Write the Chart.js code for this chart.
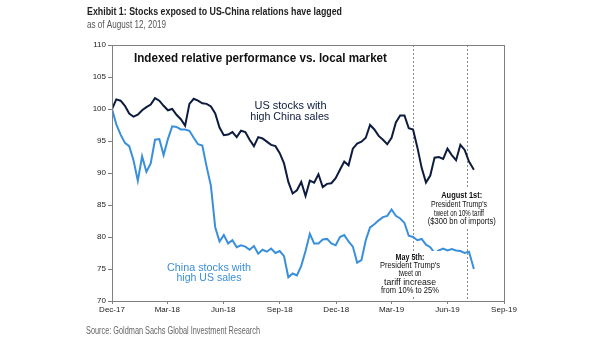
<!DOCTYPE html>
<html><head><meta charset="utf-8">
<script src="https://cdn.jsdelivr.net/npm/chart.js@4.4.1/dist/chart.umd.min.js"></script>
<style>html,body{margin:0;padding:0;background:#fff;}#wrap{width:605px;height:341px;}canvas{display:block;}</style>
</head><body><div id="wrap"><canvas id="c" width="605" height="341"></canvas></div>
<script>
const dates = ['2017-12-31','2018-01-07','2018-01-14','2018-01-21','2018-01-28','2018-02-04','2018-02-11','2018-02-18','2018-02-25','2018-03-04','2018-03-11','2018-03-18','2018-03-25','2018-04-01','2018-04-08','2018-04-15','2018-04-22','2018-04-29','2018-05-06','2018-05-13','2018-05-20','2018-05-27','2018-06-03','2018-06-10','2018-06-17','2018-06-24','2018-07-01','2018-07-08','2018-07-15','2018-07-22','2018-07-29','2018-08-05','2018-08-12','2018-08-19','2018-08-26','2018-09-02','2018-09-09','2018-09-16','2018-09-23','2018-09-30','2018-10-07','2018-10-14','2018-10-21','2018-10-28','2018-11-04','2018-11-11','2018-11-18','2018-11-25','2018-12-02','2018-12-09','2018-12-16','2018-12-23','2018-12-30','2019-01-06','2019-01-13','2019-01-20','2019-01-27','2019-02-03','2019-02-10','2019-02-17','2019-02-24','2019-03-03','2019-03-10','2019-03-17','2019-03-24','2019-03-31','2019-04-07','2019-04-14','2019-04-21','2019-04-28','2019-05-05','2019-05-12','2019-05-19','2019-05-26','2019-06-02','2019-06-09','2019-06-16','2019-06-23','2019-06-30','2019-07-07','2019-07-14','2019-07-21','2019-07-28','2019-08-04','2019-08-12'];
const usHighChinaSales = [100.0,101.5,101.3,100.5,99.3,98.8,99.1,99.8,100.3,100.7,101.7,101.3,100.5,99.8,100.0,99.1,98.4,97.4,100.8,101.6,101.3,100.9,100.8,100.4,99.3,97.1,95.9,96.0,96.4,95.6,96.6,96.4,95.2,94.2,95.6,95.4,94.9,94.4,94.2,93.1,91.5,88.6,86.8,87.3,88.6,86.4,88.8,88.5,89.8,87.8,88.3,88.4,89.2,90.5,91.8,91.2,93.8,94.6,94.9,95.5,97.5,96.8,95.8,95.2,94.5,95.5,97.9,99.0,99.0,97.0,96.8,94.0,90.8,88.5,89.6,92.4,92.5,92.2,93.8,92.8,92.0,94.4,93.6,91.8,90.5];
const chinaHighUsSales = [100.0,97.6,96.0,94.7,94.2,92.0,88.8,92.6,90.2,91.5,95.2,95.3,92.8,95.3,97.3,97.2,96.8,96.8,96.6,95.5,94.5,94.3,91.0,88.0,81.5,79.3,80.3,79.0,79.5,78.4,78.7,78.5,78.0,78.6,77.4,78.0,77.7,78.2,77.5,77.8,77.0,73.7,74.3,74.0,75.5,77.8,80.5,79.0,79.0,79.6,79.7,79.0,78.7,80.0,80.3,79.3,78.5,76.0,76.4,79.5,81.5,82.0,82.6,83.1,83.3,84.3,83.3,82.9,82.2,80.2,80.0,79.5,79.7,78.8,78.4,77.5,77.9,78.2,77.9,78.1,77.9,77.8,77.5,77.7,75.0];
const tickDates = ['2017-12-31','2018-03-31','2018-06-30','2018-09-30','2018-12-31','2019-03-31','2019-06-30','2019-09-30'];
const tickLabels = ['Dec-17','Mar-18','Jun-18','Sep-18','Dec-18','Mar-19','Jun-19','Sep-19'];
const eventDates = ['2019-05-05','2019-08-01'];
const yMin = 70, yMax = 110, yStep = 5;

const DAY = 86400000;
const base = Date.parse(tickDates[0]);
const toDay = s => Math.round((Date.parse(s) - base) / DAY);
const tickDays = tickDates.map(toDay);

const NAVY = '#0d1b3e', BLUE = '#3a8fdb';

function fitText(ctx, txt, x, y, w, font, color, align) {
  ctx.save();
  ctx.font = font; ctx.fillStyle = color; ctx.textBaseline = 'alphabetic'; ctx.textAlign = align;
  const m = ctx.measureText(txt).width;
  ctx.translate(x, y); ctx.scale(w / m, 1); ctx.fillText(txt, 0, 0);
  ctx.restore();
}
const F = "'Liberation Sans', Arial, sans-serif";

const decor = {
  id: 'decor',
  beforeDatasetsDraw(chart) {
    const {ctx, chartArea: a, scales} = chart;
    ctx.save();
    ctx.strokeStyle = '#8a8a8a'; ctx.lineWidth = 1; ctx.setLineDash([2, 2]);
    eventDates.forEach(d => {
      const x = Math.round(scales.x.getPixelForValue(toDay(d))) + 0.5;
      ctx.beginPath(); ctx.moveTo(x, a.top); ctx.lineTo(x, a.bottom); ctx.stroke();
    });
    ctx.restore();
  },
  afterDatasetsDraw(chart) {
    const {ctx, chartArea: a} = chart;
    ctx.save();
    ctx.strokeStyle = '#808080'; ctx.lineWidth = 1;
    ctx.strokeRect(Math.round(a.left) + 0.5, Math.round(a.top) + 0.5, Math.round(a.right - a.left), Math.round(a.bottom - a.top));
    ctx.fillStyle = '#fff';
    ctx.fillRect(426, 189, 71, 38);
    ctx.fillRect(378, 251, 64, 45);
    ctx.restore();
    fitText(ctx, 'Exhibit 1: Stocks exposed to US-China relations have lagged', 87, 15, 255, 'bold 11px ' + F, '#222', 'left');
    fitText(ctx, 'as of August 12, 2019', 87, 28, 79, '10px ' + F, '#555', 'left');
    fitText(ctx, 'Source: Goldman Sachs Global Investment Research', 86, 334, 174, '10px ' + F, '#666', 'left');
    fitText(ctx, 'Indexed relative performance vs. local market', 134, 62, 253, 'bold 13px ' + F, '#111', 'left');
    fitText(ctx, 'US stocks with', 290.5, 109, 72, '11px ' + F, NAVY, 'center');
    fitText(ctx, 'high China sales', 289.7, 120, 79, '11px ' + F, NAVY, 'center');
    fitText(ctx, 'China stocks with', 209, 270.5, 84, '11px ' + F, BLUE, 'center');
    fitText(ctx, 'high US sales', 209, 281, 65, '11px ' + F, BLUE, 'center');
    fitText(ctx, 'August 1st:', 461.7, 198, 41, 'bold 9px ' + F, '#111', 'center');
    fitText(ctx, "President Trump's", 459, 207, 56, '9px ' + F, '#111', 'center');
    fitText(ctx, 'tweet on 10% tariff', 459, 215.7, 50, '9px ' + F, '#111', 'center');
    fitText(ctx, '($300 bn of imports)', 461.8, 224, 68, '9px ' + F, '#111', 'center');
    fitText(ctx, 'May 5th:', 410, 259.5, 29, 'bold 9px ' + F, '#111', 'center');
    fitText(ctx, "President Trump's", 410, 267.7, 60, '9px ' + F, '#111', 'center');
    fitText(ctx, 'tweet on', 410, 276, 23, '9px ' + F, '#111', 'center');
    fitText(ctx, 'tariff increase', 410, 284.7, 52, '9px ' + F, '#111', 'center');
    fitText(ctx, 'from 10% to 25%', 410, 293.3, 58, '9px ' + F, '#111', 'center');
  }
};

new Chart(document.getElementById('c'), {
  type: 'line',
  data: {
    datasets: [
      { label: 'US stocks with high China sales', data: dates.map((d, i) => ({x: toDay(d), y: usHighChinaSales[i]})),
        borderColor: NAVY, borderWidth: 2, pointRadius: 0, tension: 0, fill: false },
      { label: 'China stocks with high US sales', data: dates.map((d, i) => ({x: toDay(d), y: chinaHighUsSales[i]})),
        borderColor: BLUE, borderWidth: 2, pointRadius: 0, tension: 0, fill: false }
    ]
  },
  options: {
    responsive: false, animation: false, devicePixelRatio: 1,
    layout: { padding: { left: 0, top: 45, right: 101, bottom: 0 } },
    plugins: { legend: { display: false }, tooltip: { enabled: false } },
    scales: {
      x: {
        type: 'linear', min: tickDays[0], max: tickDays[tickDays.length - 1],
        afterBuildTicks: s => { s.ticks = tickDays.map(v => ({value: v})); },
        afterFit: s => { s.height = 40; },
        ticks: { autoSkip: false, maxRotation: 0, padding: 1, color: '#222', font: { family: F, size: 8 },
          callback: v => tickLabels[tickDays.indexOf(v)] },
        grid: { drawOnChartArea: false, tickLength: 3, color: '#808080' },
        border: { color: '#808080' }
      },
      y: {
        min: yMin, max: yMax,
        afterFit: s => { s.width = 112; },
        ticks: { stepSize: yStep, padding: 2, color: '#222', font: { family: F, size: 8 } },
        grid: { drawOnChartArea: false, tickLength: 4, color: '#808080' },
        border: { color: '#808080' }
      }
    }
  },
  plugins: [decor]
});
</script>
</body></html>
